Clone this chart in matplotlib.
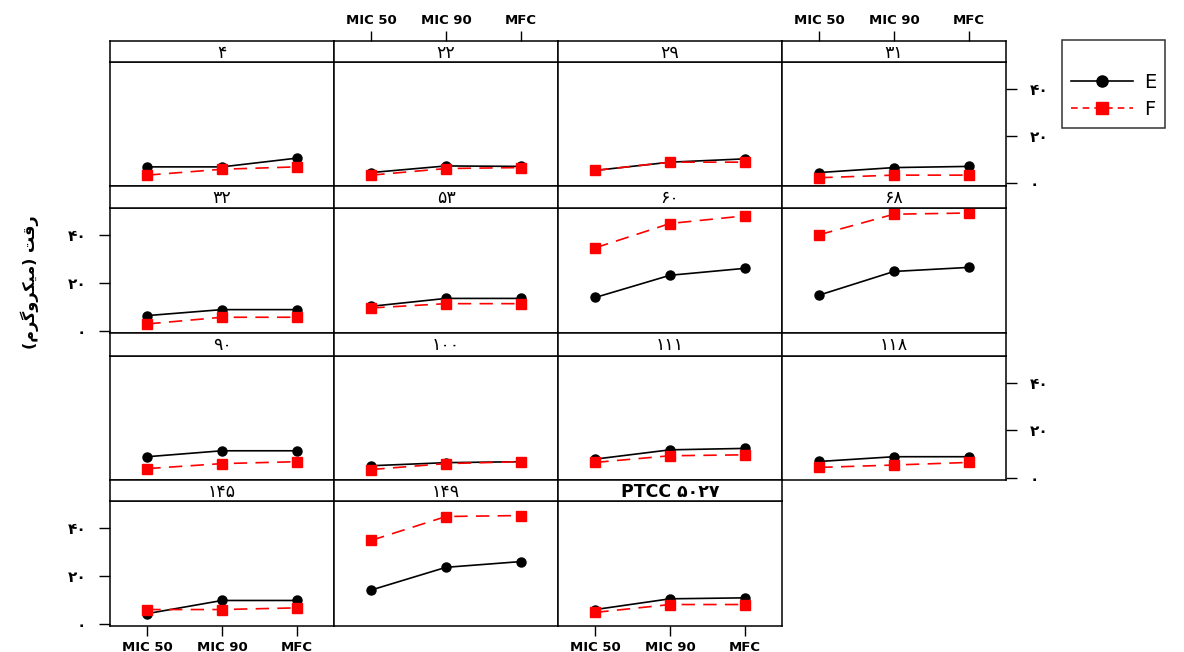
import matplotlib
matplotlib.use("Agg")
import matplotlib.pyplot as plt
from matplotlib.lines import Line2D

# ---------------- data ----------------
categories = ["MIC 50", "MIC 90", "MFC"]
panel_titles = ["۴", "۲۲", "۲۹", "۳۱",
                "۳۲", "۵۳", "۶۰", "۶۸",
                "۹۰", "۱۰۰", "۱۱۱", "۱۱۸",
                "۱۴۵", "۱۴۹", "PTCC ۵۰۲۷"]
e_values = [[7.0, 7.0, 10.7], [4.6, 7.4, 7.2], [5.5, 9.0, 10.4], [4.6, 6.7, 7.2],
            [6.4, 8.9, 8.9], [10.3, 13.6, 13.6], [14.0, 23.3, 26.2], [15.0, 24.9, 26.6],
            [8.9, 11.4, 11.4], [5.1, 6.4, 6.8], [7.9, 11.8, 12.4], [6.9, 8.9, 8.9],
            [4.3, 9.8, 9.8], [14.2, 23.7, 26.1], [6.0, 10.5, 10.9]]
f_values = [[3.5, 6.0, 7.0], [3.5, 6.3, 6.7], [5.5, 9.0, 9.0], [2.4, 3.5, 3.5],
            [2.9, 5.7, 5.7], [9.6, 11.4, 11.4], [34.8, 45.0, 48.2], [40.3, 48.9, 49.4],
            [3.9, 6.0, 6.8], [3.5, 6.0, 6.8], [6.5, 9.3, 9.7], [4.4, 5.4, 6.5],
            [6.0, 6.0, 6.7], [35.0, 45.0, 45.4], [4.8, 8.1, 8.1]]
series_names = ["E", "F"]
y_ticks = [0, 20, 40]
y_tick_labels = ["۰", "۲۰", "۴۰"]
# "رقت (میکروگرم)" shaped into presentation forms, visual order
y_label = "(" + "\uFEE1\uFEAE\uFB94\uFEED\uFEAE\uFB91\uFBFF\uFEE3" + ") " + "\uFE96\uFED7\uFEAD"

# ---------------- layout ----------------
W, H = 1184, 652
fig = plt.figure(figsize=(W / 100, H / 100), dpi=100)
plt.rcParams['font.family'] = ['DejaVu Sans']

def rect(x0, y0, x1, y1):
    return [x0 / W, 1 - y1 / H, (x1 - x0) / W, (y1 - y0) / H]

col_x = [110, 334, 558, 782, 1006]
rows = [(41, 62, 185.5), (185.5, 208, 333), (333, 355.5, 480), (480, 501, 626)]
xpos = [1, 2, 3]
ylim = (-0.9, 51.5)

tick_font = dict(fontsize=9.5, fontweight='bold')
ytick_font = dict(fontsize=11, fontweight='bold')

for i, title in enumerate(panel_titles):
    r, c = divmod(i, 4)
    st, sb, pb = rows[r]
    x0, x1 = col_x[c], col_x[c + 1]
    ax = fig.add_axes(rect(x0, sb, x1, pb))
    sax = fig.add_axes(rect(x0, st, x1, sb))

    ax.plot(xpos, e_values[i], color='black', lw=1.2, marker='o', ms=6.5,
            zorder=3)
    ax.plot(xpos, f_values[i], color='#ff0000', lw=1.2, ls=(0, (8, 5)),
            marker='s', ms=6.5, zorder=4)
    ax.set_xlim(0.5, 3.5)
    ax.set_ylim(*ylim)
    for sp in ax.spines.values():
        sp.set_linewidth(1.1)
    ax.set_xticks(xpos)
    ax.set_yticks(y_ticks)
    ax.tick_params(axis='x', direction='out', length=7, width=1, pad=4)
    ax.tick_params(axis='y', direction='out', length=8, width=1, pad=9)
    ax.tick_params(labelbottom=False, bottom=False, left=False, labelleft=False)

    # lattice-style alternating axes
    if r == 3 and c in (0, 2):
        ax.tick_params(bottom=True, labelbottom=True)
        ax.set_xticklabels(categories, **tick_font)
    if c == 0 and r in (1, 3):
        ax.tick_params(left=True, labelleft=True)
        ax.set_yticklabels(y_tick_labels, **ytick_font)
    if c == 3 and r in (0, 2):
        ax.tick_params(right=True, labelright=True)
        ax.set_yticklabels(y_tick_labels, **ytick_font)

    # strip
    sax.set_xlim(0.5, 3.5)
    sax.set_ylim(0, 1)
    sax.set_yticks([])
    sax.set_xticks(xpos)
    sax.tick_params(bottom=False, labelbottom=False, direction='out',
                    length=7, width=1, pad=3)
    if r == 0 and c in (1, 3):
        sax.tick_params(top=True, labeltop=True)
        sax.set_xticklabels(categories, **tick_font)
    for sp in sax.spines.values():
        sp.set_linewidth(1.1)
    sax.text(2, 0.45, title, ha='center', va='center', fontsize=12.5,
             fontweight='bold' if title.startswith('PTCC') else 'normal')

fig.text(30 / W, 1 - 282 / H, y_label, rotation=90, ha='center', va='center',
         fontsize=11.5, fontweight='bold')

handles = [Line2D([], [], color='black', lw=1.2, marker='o', ms=8),
           Line2D([], [], color='#ff0000', lw=1.2, ls=(0, (4, 3)), marker='s', ms=8)]
leg = fig.legend(handles, series_names, loc='upper left',
                 bbox_to_anchor=(1062 / W, 1 - 40 / H), fontsize=14,
                 title=" ", title_fontsize=11,
                 frameon=True, fancybox=False, edgecolor='black',
                 handlelength=3.2, borderpad=0.45, labelspacing=0.45,
                 handletextpad=0.55, borderaxespad=0)
leg.get_frame().set_linewidth(1.1)

fig.savefig("out.png", dpi=100)
